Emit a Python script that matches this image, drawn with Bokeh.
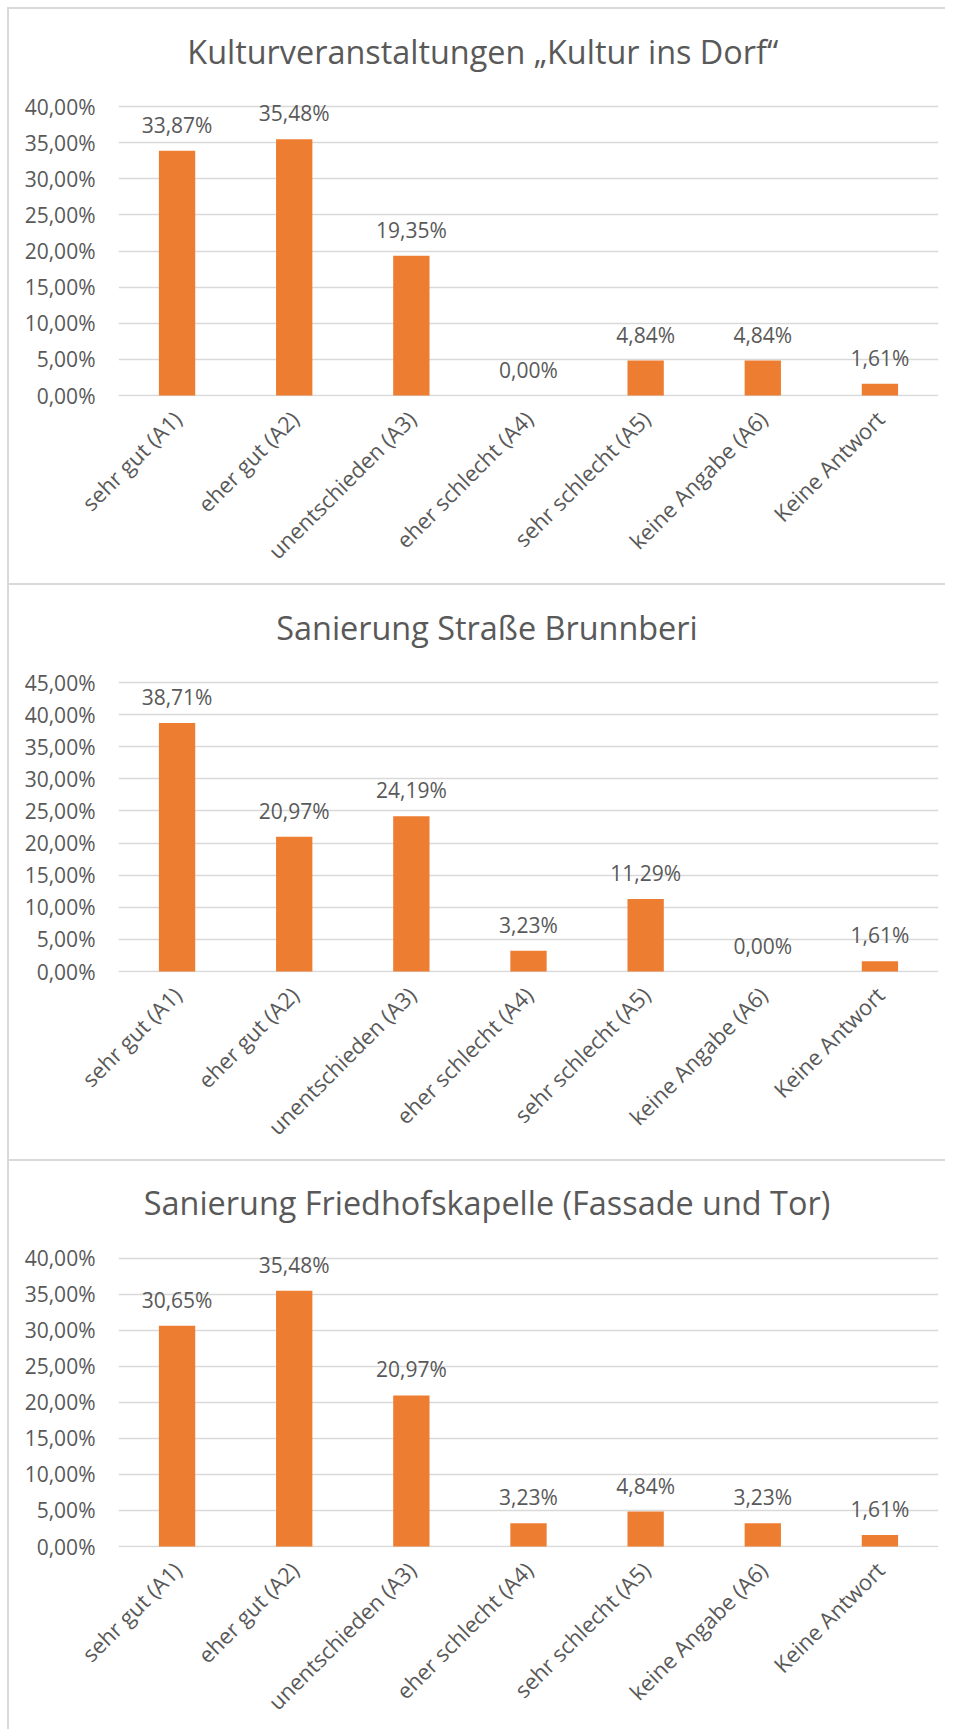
import math
from bokeh.plotting import figure
from bokeh.models import ColumnDataSource, LabelSet, Label, Range1d, FixedTicker, Div
from bokeh.layouts import column, row
from bokeh.embed import file_html
from bokeh.resources import INLINE
from bokeh.core.properties import value

# ---------------- data ----------------
categories = ["sehr gut (A1)", "eher gut (A2)", "unentschieden (A3)",
              "eher schlecht (A4)", "sehr schlecht (A5)", "keine Angabe (A6)",
              "Keine Antwort"]

title_1 = "Kulturveranstaltungen  \u201eKultur ins Dorf\u201c"
values_1 = [33.87, 35.48, 19.35, 0.00, 4.84, 4.84, 1.61]
ticks_1 = [0, 5, 10, 15, 20, 25, 30, 35, 40]

title_2 = "Sanierung Stra\u00dfe Brunnberi"
values_2 = [38.71, 20.97, 24.19, 3.23, 11.29, 0.00, 1.61]
ticks_2 = [0, 5, 10, 15, 20, 25, 30, 35, 40, 45]

title_3 = "Sanierung Friedhofskapelle (Fassade und Tor)"
values_3 = [30.65, 35.48, 20.97, 3.23, 4.84, 3.23, 1.61]
ticks_3 = [0, 5, 10, 15, 20, 25, 30, 35, 40]

# ---------------- style ----------------
FONT = "Open Sans"
TEXT = "#595959"
GRID = "#d9d9d9"
BAR = "#ED7D31"

ORIGIN = 7           # page offset of the outer border
FIG_W = 936
BORDER_L = 109
BORDER_R = 7
TOP_TICK_PX = 97     # px from figure top to highest gridline
ZERO_PX = 386        # px from figure top to the 0 line
SPAN_PX = ZERO_PX - TOP_TICK_PX
TITLE_BASE_PX = 41   # px from figure top to title baseline
TITLE_CX = 486.5     # page x of title centre


def pct(v):
    return f"{v:.2f}".replace(".", ",") + "%"


def make_panel(title, values, ticks, height):
    top = ticks[-1]
    scale = SPAN_PX / top                      # px per data unit
    y_start = -1 / scale
    y_end = top + TOP_TICK_PX / scale
    p = figure(x_range=categories, y_range=Range1d(y_start, y_end),
               width=FIG_W, height=height,
               min_border_left=BORDER_L, min_border_right=BORDER_R,
               min_border_top=0,
               min_border_bottom=height - ZERO_PX - 1,
               output_backend="svg", toolbar_location=None, tools="")
    p.outline_line_color = None
    p.background_fill_color = "white"
    p.border_fill_color = "white"

    src = ColumnDataSource(dict(cat=categories, val=values,
                                lab=[pct(v) for v in values]))
    p.vbar(x="cat", top="val", width=0.31, source=src,
           fill_color=BAR, line_color=None)

    # y axis
    p.yaxis.ticker = FixedTicker(ticks=ticks)
    p.yaxis.major_label_overrides = {t: pct(t) for t in ticks}
    p.yaxis.axis_line_color = None
    p.yaxis.major_tick_line_color = None
    p.yaxis.minor_tick_line_color = None
    p.yaxis.major_tick_out = 0
    p.yaxis.major_tick_in = 0
    p.yaxis.major_label_standoff = 23
    p.yaxis.major_label_text_font = FONT
    p.yaxis.major_label_text_font_size = "21px"
    p.yaxis.major_label_text_color = TEXT

    # x axis (rotated category labels)
    p.xaxis.axis_line_color = None
    p.xaxis.major_tick_line_color = None
    p.xaxis.minor_tick_line_color = None
    p.xaxis.major_tick_out = 0
    p.xaxis.major_tick_in = 0
    p.xaxis.major_label_standoff = 18
    p.xaxis.major_label_orientation = math.pi / 4
    p.xaxis.major_label_text_font = FONT
    p.xaxis.major_label_text_font_size = "22px"
    p.xaxis.major_label_text_color = TEXT

    p.xgrid.grid_line_color = None
    p.ygrid.grid_line_color = GRID
    p.ygrid.grid_line_width = 1.5

    # data labels
    p.add_layout(LabelSet(x="cat", y="val", text="lab", source=src,
                          text_align="center", text_baseline="alphabetic",
                          y_offset=18, text_font=value(FONT),
                          text_font_size="21px", text_color=TEXT))

    # title (inside the upper, empty part of the frame)
    y_title = top + (TOP_TICK_PX - TITLE_BASE_PX) / scale
    frame_w = FIG_W - BORDER_L - BORDER_R
    x_title = (TITLE_CX - ORIGIN - 2 - BORDER_L) / (frame_w / len(categories))
    p.add_layout(Label(x=x_title, y=y_title, text=title,
                       text_align="center", text_baseline="alphabetic",
                       text_font=FONT, text_font_size="32.4px",
                       text_color=TEXT))
    return p


H1, H2, H3 = 574, 574, 568
p1 = make_panel(title_1, values_1, ticks_1, H1)
p2 = make_panel(title_2, values_2, ticks_2, H2)
p3 = make_panel(title_3, values_3, ticks_3, H3)


def hline():
    return Div(text="", width=FIG_W, height=2, margin=(0, 0, 0, 0),
               styles={"background-color": GRID})


col = column(hline(), p1, hline(), p2, hline(), p3, spacing=0)
vline = Div(text="", width=2, height=2 + H1 + 2 + H2 + 2 + H3,
            margin=(0, 0, 0, 0), styles={"background-color": GRID})
layout = row(vline, col, spacing=0, margin=(ORIGIN, 0, 0, ORIGIN))

open("out.html", "w").write(file_html(layout, INLINE))
